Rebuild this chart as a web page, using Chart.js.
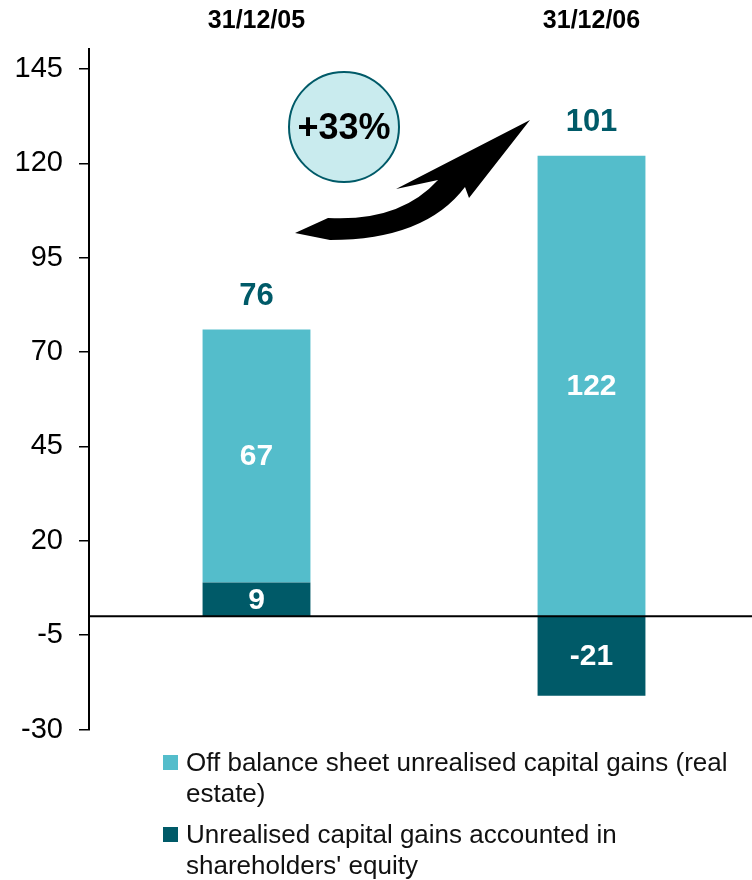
<!DOCTYPE html>
<html>
<head>
<meta charset="utf-8">
<script src="https://cdn.jsdelivr.net/npm/chart.js@4.4.1/dist/chart.umd.min.js"></script>
<style>
  html, body { margin: 0; padding: 0; background: #fff; overflow: hidden; }
  .wrap { position: absolute; left: 0; top: 0; width: 760px; height: 763px; }
  .legend { position: absolute; left: 0; top: 0; font-family: "Liberation Sans", Arial, sans-serif; font-size: 26px; color: #111; }
  .legend .item { position: absolute; left: 186px; width: 564px; line-height: 31px; }
  .legend .box { position: absolute; left: -23px; top: 8px; width: 15px; height: 15px; }
</style>
</head>
<body>
<div class="wrap"><canvas class="chart-canvas"></canvas></div>
<div class="legend">
  <div class="item" style="top:747px"><span class="box" style="background:#54BDCB"></span>Off balance sheet unrealised capital gains (real estate)</div>
  <div class="item" style="top:819px"><span class="box" style="background:#005A68"></span>Unrealised capital gains accounted in shareholders' equity</div>
</div>
<script>
var categories = ["31/12/05", "31/12/06"];
var equityGains = [9, -21];
var offBalanceGains = [67, 122];
var totals = [76, 101];
var yTicks = [-30, -5, 20, 45, 70, 95, 120, 145];
var growthLabel = "+33%";

var LIGHT = '#54BDCB';
var DARK = '#005A68';
var FONT = '"Liberation Sans", Arial, sans-serif';

// labels inside the bars, totals above, zero line, circle and arrow
var decorations = {
    id: 'decorations',
    afterDatasetsDraw: function (chart) {
        var c = chart.ctx;
        var area = chart.chartArea;
        var y = chart.scales.y;

        // zero line
        var y0 = y.getPixelForValue(0);
        c.save();
        c.strokeStyle = '#000';
        c.lineWidth = 2;
        c.beginPath();
        c.moveTo(area.left, y0);
        c.lineTo(area.right, y0);
        c.stroke();

        // values inside segments
        c.fillStyle = '#fff';
        c.font = 'bold 30px ' + FONT;
        c.textAlign = 'center';
        c.textBaseline = 'middle';
        chart.data.datasets.forEach(function (ds, i) {
            chart.getDatasetMeta(i).data.forEach(function (bar, j) {
                var p = bar.getProps(['x', 'y', 'base'], true);
                c.fillText(String(ds.data[j]), p.x, (p.y + p.base) / 2 + 1);
            });
        });

        // totals above the stack
        c.fillStyle = DARK;
        c.font = 'bold 31px ' + FONT;
        chart.getDatasetMeta(1).data.forEach(function (bar, j) {
            var p = bar.getProps(['x', 'y'], true);
            c.fillText(String(totals[j]), p.x, p.y - 33);
        });

        // growth bubble
        c.beginPath();
        c.ellipse(344, 127, 55, 55, 0, 0, Math.PI * 2);
        c.fillStyle = '#C9EBEE';
        c.fill();
        c.lineWidth = 2;
        c.strokeStyle = DARK;
        c.stroke();
        c.fillStyle = '#000';
        c.font = 'bold 36px ' + FONT;
        c.fillText(growthLabel, 344, 129);

        // curved arrow
        c.beginPath();
        c.moveTo(295, 233);
        c.lineTo(328, 218);
        c.quadraticCurveTo(400, 222, 438, 180);
        c.lineTo(396, 189);
        c.lineTo(530, 120);
        c.lineTo(469, 198);
        c.lineTo(465, 187);
        c.quadraticCurveTo(425, 240, 330, 240);
        c.closePath();
        c.fillStyle = '#000';
        c.fill();
        c.restore();
    }
};

var ctx = document.querySelector(".chart-canvas");
var chart = new Chart(ctx, {
    type: 'bar',
    data: {
        labels: categories,
        datasets: [
            {
                label: "Unrealised capital gains accounted in shareholders' equity",
                data: equityGains,
                backgroundColor: DARK,
                borderWidth: 0
            },
            {
                label: "Off balance sheet unrealised capital gains (real estate)",
                data: offBalanceGains,
                backgroundColor: LIGHT,
                borderWidth: 0
            }
        ]
    },
    options: {
        responsive: true,
        maintainAspectRatio: false,
        animation: false,
        layout: { padding: { top: 0, right: 1, bottom: 0, left: 0 } },
        datasets: {
            bar: { barPercentage: 1, categoryPercentage: 0.322 }
        },
        plugins: {
            legend: { display: false },
            tooltip: { enabled: false }
        },
        scales: {
            x: {
                position: 'top',
                stacked: true,
                grid: { display: false, drawTicks: false },
                border: { display: false },
                ticks: {
                    color: '#000',
                    padding: 13,
                    font: { family: FONT, size: 25, weight: 'bold' }
                },
                afterFit: function (scale) { scale.height = 49; }
            },
            y: {
                stacked: true,
                min: -30,
                max: 150.3,
                grid: {
                    drawOnChartArea: false,
                    drawTicks: true,
                    tickLength: 10,
                    color: '#000',
                    lineWidth: 1.5
                },
                border: { display: true, color: '#000', width: 2 },
                ticks: {
                    color: '#000',
                    padding: 16,
                    font: { family: FONT, size: 29 }
                },
                afterBuildTicks: function (scale) {
                    scale.ticks = yTicks.map(function (v) { return { value: v }; });
                },
                afterFit: function (scale) { scale.width = 89; }
            }
        }
    },
    plugins: [decorations]
});
</script>
</body>
</html>
